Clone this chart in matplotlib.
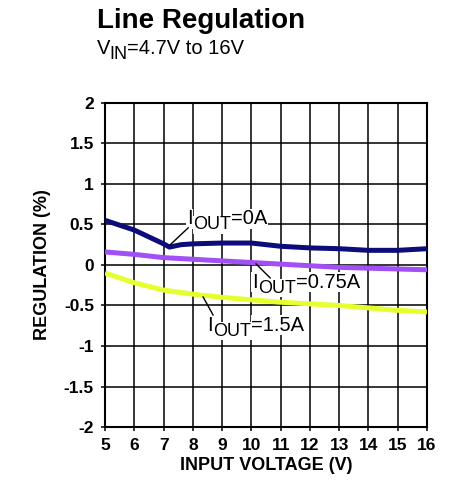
import matplotlib
matplotlib.use('Agg')
import matplotlib.pyplot as plt

plt.rcParams['font.family'] = ['Liberation Sans', 'DejaVu Sans']

# data
vin_0a = [5, 6, 7, 7.2, 7.6, 8, 9, 10, 11, 12, 13, 14, 15, 16]
reg_0a = [0.55, 0.43, 0.26, 0.22, 0.25, 0.26, 0.27, 0.27, 0.23, 0.21, 0.2, 0.18, 0.18, 0.2]
vin_075 = [5, 6, 7, 8, 9, 10, 11, 12, 13, 14, 15, 16]
reg_075 = [0.16, 0.13, 0.09, 0.07, 0.05, 0.03, 0.01, -0.01, -0.03, -0.04, -0.05, -0.06]
vin_15 = [5, 6, 7, 8, 9, 10, 11, 12, 13, 14, 15, 16]
reg_15 = [-0.1, -0.22, -0.31, -0.36, -0.4, -0.43, -0.46, -0.48, -0.5, -0.53, -0.56, -0.58]

xticks = list(range(5, 17))
yticks = [2, 1.5, 1, 0.5, 0, -0.5, -1, -1.5, -2]

fig = plt.figure(figsize=(4.49, 4.87), dpi=100)
ax = fig.add_axes([0.234, 0.123, 0.717, 0.666])

ax.plot(vin_0a, reg_0a, color='#0c0c7a', lw=3.6, solid_capstyle='butt', zorder=3)
ax.plot(vin_075, reg_075, color='#a050f5', lw=3.6, solid_capstyle='butt', zorder=3)
ax.plot(vin_15, reg_15, color='#e6ff2e', lw=3.6, solid_capstyle='butt', zorder=3)

ax.set_xlim(5, 16)
ax.set_ylim(-2, 2)
ax.set_xticks(xticks)
ax.set_yticks(yticks)
ax.set_yticklabels([('%g' % v) for v in yticks])
ax.grid(True, color='black', lw=1.1)
for s in ax.spines.values():
    s.set_linewidth(1.5)
ax.tick_params(length=3, width=1.1, direction='out', pad=5, labelsize=12.5)
for lab in ax.get_xticklabels() + ax.get_yticklabels():
    lab.set_fontweight('bold')

ax.set_xlabel('INPUT VOLTAGE (V)', fontsize=13, fontweight='bold', labelpad=3)
ax.set_ylabel('REGULATION (%)', fontsize=13, fontweight='bold', labelpad=9)


def sub_label(x, y, tail, size=14.5, subsize=13):
    box = dict(fc='white', ec='none', pad=0.5)
    t1 = ax.text(x, y, 'I', fontsize=size, ha='left', va='bottom', bbox=box, zorder=4)
    t2 = ax.annotate('OUT', xy=(1, 0), xycoords=t1, xytext=(0.6, -3.5), textcoords='offset points',
                     fontsize=subsize, ha='left', va='bottom', bbox=box, zorder=4)
    ax.annotate(tail, xy=(1, 0), xycoords=t2, xytext=(0, 3.5), textcoords='offset points',
                fontsize=size, ha='left', va='bottom', bbox=box, zorder=4)


# curve labels with leader lines
sub_label(7.8, 0.45, '=0A')
ax.plot([7.84, 7.22], [0.457, 0.247], color='black', lw=1, zorder=4)
sub_label(10.02, -0.33, '=0.75A')
ax.plot([10.64, 10.16], [-0.16, 0.012], color='black', lw=1, zorder=4)
sub_label(8.48, -0.86, '=1.5A')
ax.plot([8.69, 8.35], [-0.617, -0.395], color='black', lw=1, zorder=4)

fig.text(0.216, 0.942, 'Line Regulation', fontsize=20, fontweight='bold', ha='left', va='baseline')
v = fig.text(0.216, 0.889, 'V', fontsize=14.5, ha='left', va='baseline')
fig.canvas.draw()
r = fig.canvas.get_renderer()
bb = v.get_window_extent(r)
sub = fig.text(bb.x1 / fig.bbox.width - 0.002, 0.879, 'IN', fontsize=13, ha='left', va='baseline')
bb2 = sub.get_window_extent(r)
fig.text(bb2.x1 / fig.bbox.width - 0.002, 0.889, '=4.7V to 16V', fontsize=14.5, ha='left', va='baseline')

fig.savefig('out.png', dpi=100)
